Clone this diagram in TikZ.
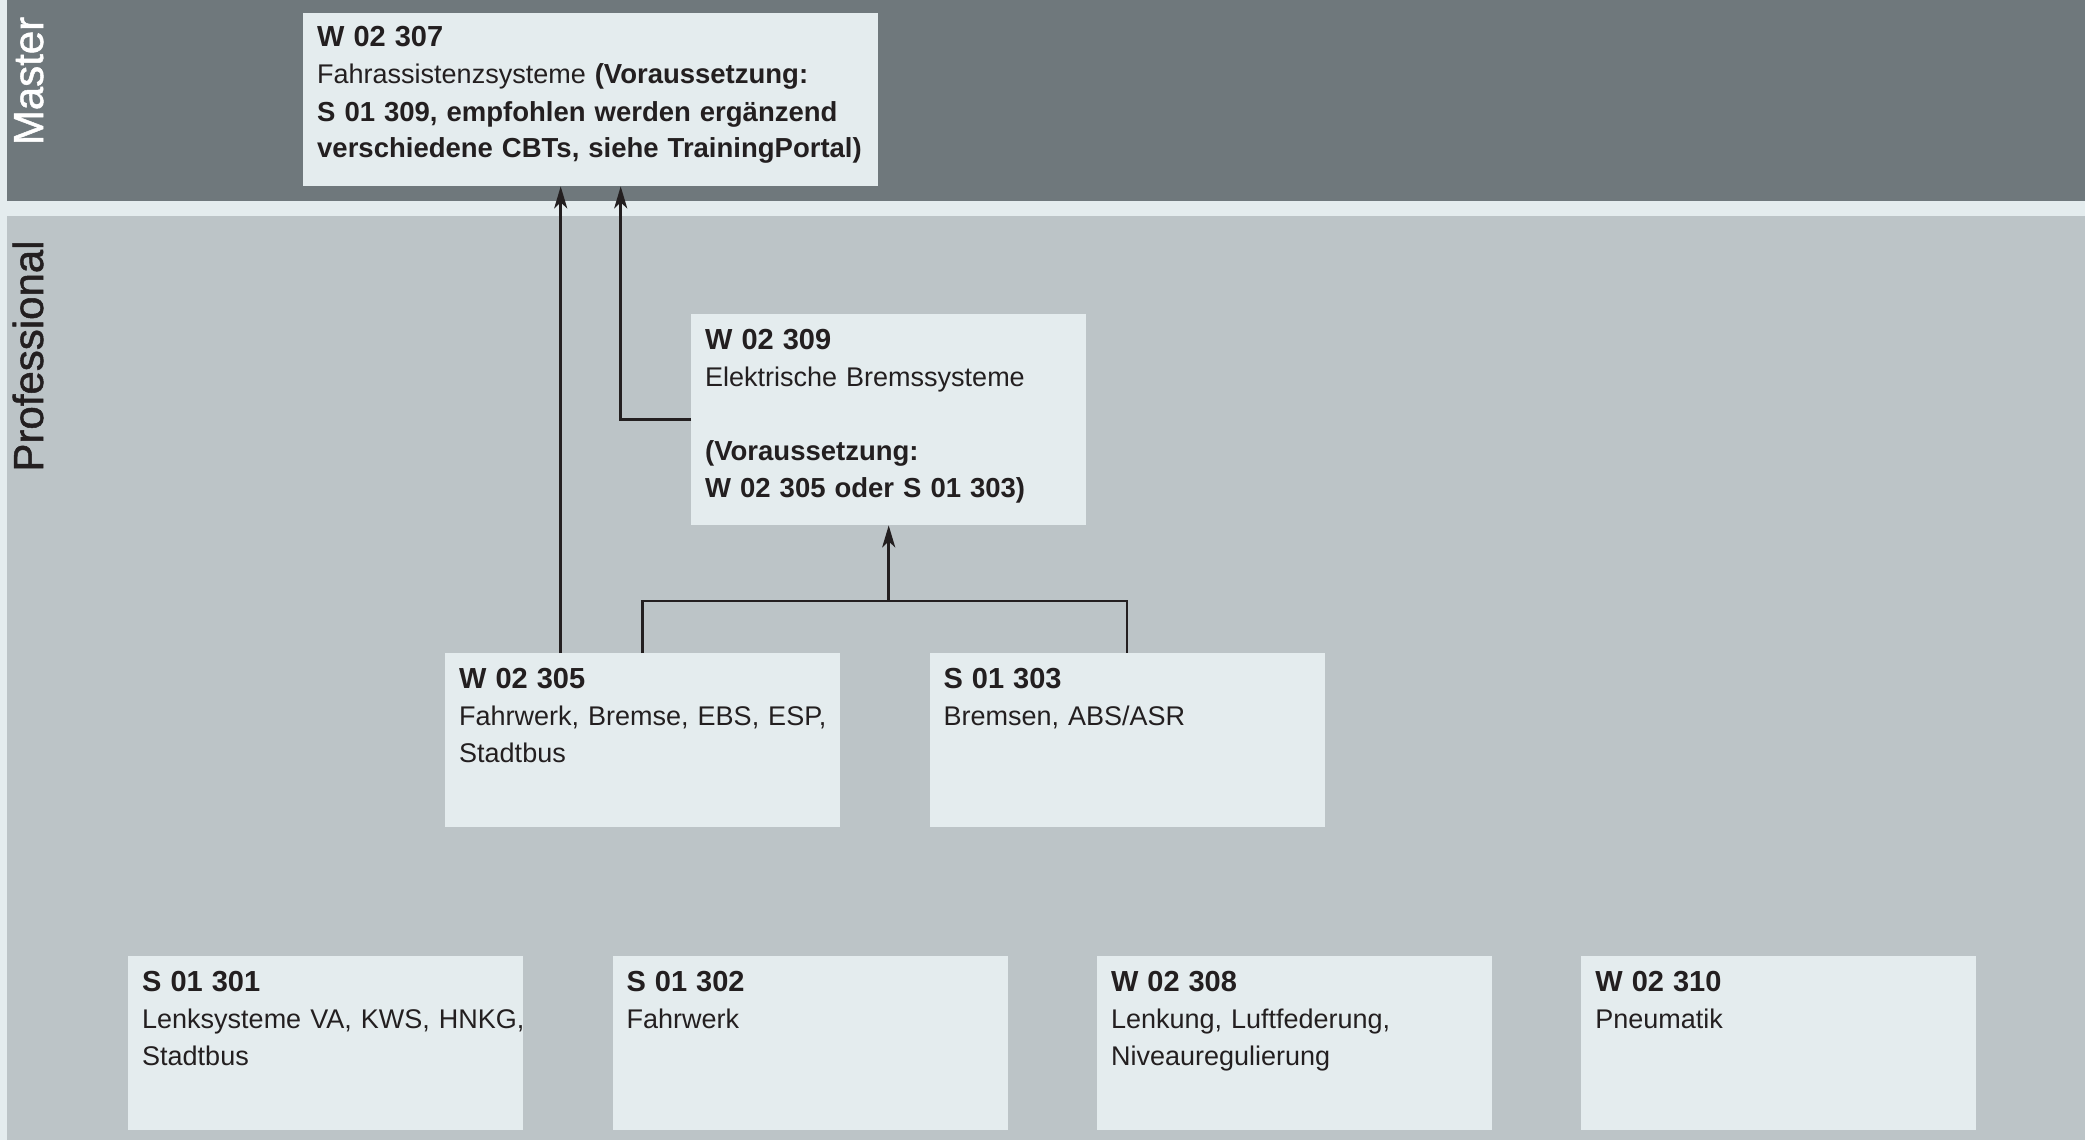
\documentclass[tikz,border=0pt]{standalone}
\usepackage{fontspec}
\setmainfont[WordSpace=0.65]{Liberation Sans}
\newfontfamily\levelfont[FakeBold=1.2]{Liberation Sans}
\usetikzlibrary{positioning, calc, arrows.meta}
\definecolor{masterbg}{HTML}{6F787C}
\definecolor{profbg}{HTML}{BCC4C7}
\definecolor{boxbg}{HTML}{E4ECEE}
\definecolor{ink}{HTML}{231F20}
\tikzset{course/.style={fill=boxbg, inner sep=0pt, minimum width=395pt, minimum height=174pt}}
\tikzset{coursetext/.style={inner sep=0pt, anchor=base west, text width=600pt, align=left, text=ink, font=\fontsize{27}{37}\selectfont}}
\tikzset{level/.style={rotate=90, anchor=base, inner sep=0pt, font=\levelfont\fontsize{42}{42}\selectfont}}
\tikzset{link/.style={draw=ink, line width=2.5pt}}
\tikzset{req/.style={link, -{Stealth[length=22pt, width=13pt, inset=6pt]}}}
\newcommand{\coursetitle}[1]{{\fontsize{29}{37}\selectfont\textbf{#1}}}
\newcommand{\coursereq}[1]{{\fontsize{27.5}{37}\selectfont\textbf{#1}}}

\begin{document}
\begin{tikzpicture}[x=1pt, y=-1pt, node distance=89pt]
  \useasboundingbox (0,0) rectangle (2085,1140);
  \fill[boxbg] (0,0) rectangle (2085,1140);

  % bands
  \fill[masterbg] (7,0) rectangle (2085,201);
  \fill[profbg] (7,216) rectangle (2085,1140);
  \node[level, text=white] (master) at (43,81) {Master};
  \node[level, text=ink] (prof) at (43,356) {Professional};

  % courses
  \node[course, anchor=north west, minimum width=575pt, minimum height=173pt] (w307) at (303,13) {};
  \node[course, anchor=north west, minimum height=211pt] (w309) at (691,314) {};
  \node[course, anchor=north west] (w305) at (445,653) {};
  \node[course, right=of w305] (s303) {};
  \node[course, anchor=north west] (s301) at (128,956) {};
  \node[course, right=of s301] (s302) {};
  \node[course, right=of s302] (w308) {};
  \node[course, right=of w308] (w310) {};

  \node[coursetext] (w307t) at ([shift={(14pt,-34pt)}]w307.north west)
    {\coursetitle{W 02 307}\\ Fahrassistenzsysteme \coursereq{(Voraussetzung:}\\
     \coursereq{S 01 309, empfohlen werden ergänzend}\\
     \coursereq{verschiedene CBTs, siehe TrainingPortal)}};
  \node[coursetext] (w309t) at ([shift={(14pt,-35pt)}]w309.north west)
    {\coursetitle{W 02 309}\\ Elektrische Bremssysteme\\[37pt]
     \coursereq{(Voraussetzung:}\\ \coursereq{W 02 305 oder S 01 303)}};
  \node[coursetext] (w305t) at ([shift={(14pt,-35pt)}]w305.north west)
    {\coursetitle{W 02 305}\\ Fahrwerk, Bremse, EBS, ESP,\\ Stadtbus};
  \node[coursetext] (s303t) at ([shift={(14pt,-35pt)}]s303.north west)
    {\coursetitle{S 01 303}\\ Bremsen, ABS/ASR};
  \node[coursetext] (s301t) at ([shift={(14pt,-35pt)}]s301.north west)
    {\coursetitle{S 01 301}\\ Lenksysteme VA, KWS, HNKG,\\ Stadtbus};
  \node[coursetext] (s302t) at ([shift={(14pt,-35pt)}]s302.north west)
    {\coursetitle{S 01 302}\\ Fahrwerk};
  \node[coursetext] (w308t) at ([shift={(14pt,-35pt)}]w308.north west)
    {\coursetitle{W 02 308}\\ Lenkung, Luftfederung,\\ Niveauregulierung};
  \node[coursetext] (w310t) at ([shift={(14pt,-35pt)}]w310.north west)
    {\coursetitle{W 02 310}\\ Pneumatik};

  % prerequisites
  \coordinate (up1) at ([xshift=-82pt]w305.north);
  \draw[req] (up1) -- (up1 |- w307.south);
  \draw[req] (w309.west) -| ([xshift=30pt]w307.south);
  \coordinate (fork) at ($(w305.north -| w309.south) + (0pt,52pt)$);
  \draw[link] (w305.north) |- (fork) -| (s303.north);
  \draw[req] (fork) -- (w309.south);
\end{tikzpicture}
\end{document}
